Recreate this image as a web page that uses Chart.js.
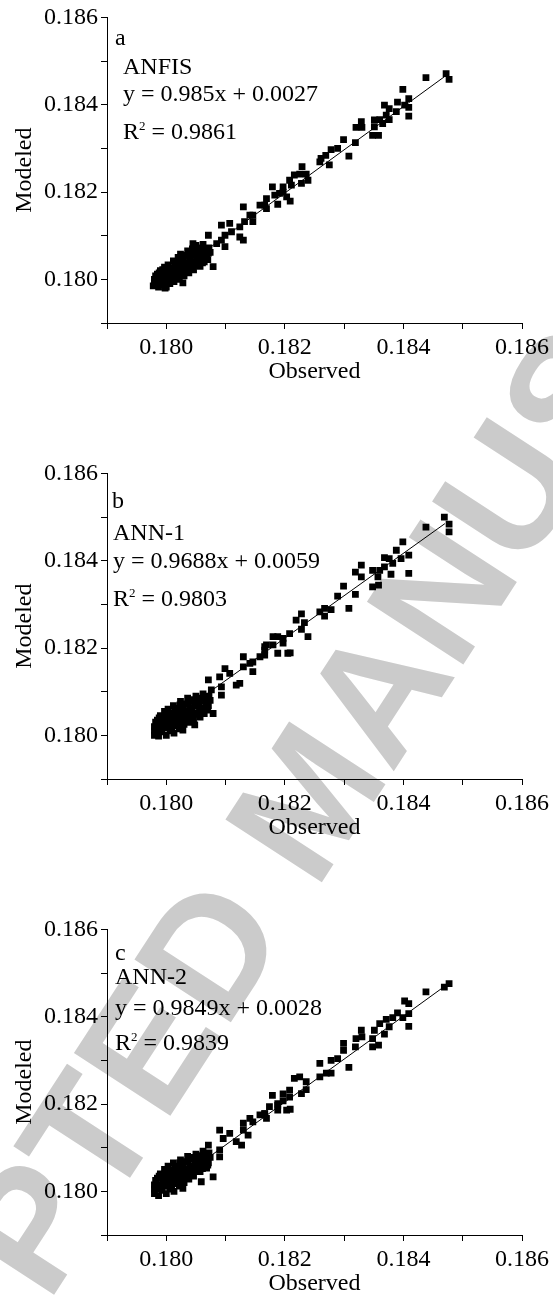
<!DOCTYPE html>
<html>
<head>
<meta charset="utf-8">
<script src="https://cdn.jsdelivr.net/npm/chart.js@4/dist/chart.umd.min.js"></script>
<style>
body { margin: 0; background: #fff; width: 553px; height: 1299px; overflow: hidden; position: relative; font-family: "Liberation Serif", serif; }
.wm { position: absolute; left: 308px; top: 798px; transform: translate(-50%, -50%) rotate(-57deg); font: bold 167px "Liberation Sans", sans-serif; color: #cbcbcb; white-space: nowrap; line-height: 1; }
.box { position: absolute; left: 0; width: 553px; height: 386px; }
.note { position: absolute; font-size: 24px; line-height: 24px; white-space: nowrap; color: #000; }
.note span { font-size: 13px; position: relative; top: -9px; }
</style>
</head>
<body>
<div class="wm">ACCEPTED MANUSCRIPT</div>

<div class="box" style="top:0"><canvas id="chartA" width="553" height="386"></canvas></div>
<div class="box" style="top:456px"><canvas id="chartB" width="553" height="386"></canvas></div>
<div class="box" style="top:912px"><canvas id="chartC" width="553" height="386"></canvas></div>

<div class="note" style="left:115px;top:25px">a</div>
<div class="note" style="left:123px;top:54px">ANFIS</div>
<div class="note" style="left:123px;top:81px">y = 0.985x + 0.0027</div>
<div class="note" style="left:123px;top:119px">R<span>2</span> = 0.9861</div>

<div class="note" style="left:112px;top:488px">b</div>
<div class="note" style="left:113px;top:520px">ANN-1</div>
<div class="note" style="left:113px;top:548px">y = 0.9688x + 0.0059</div>
<div class="note" style="left:113px;top:586px">R<span>2</span> = 0.9803</div>

<div class="note" style="left:115px;top:940px">c</div>
<div class="note" style="left:115px;top:964px">ANN-2</div>
<div class="note" style="left:115px;top:995px">y = 0.9849x + 0.0028</div>
<div class="note" style="left:115px;top:1030px">R<span>2</span> = 0.9839</div>

<script>
// axis ticks (same for both axes, all three panels)
const tickVals = [0.179, 0.180, 0.181, 0.182, 0.183, 0.184, 0.185, 0.186];
const tickLabels = ['', '0.180', '', '0.182', '', '0.184', '', '0.186'];

// ---- a: ANFIS ----
const obsA = [
  0.17978,0.17980,0.17983,0.17985,0.17987,0.17990,0.17990,0.17993,0.17995,0.17997,
  0.18000,0.18000,0.18002,0.18003,0.18006,0.18008,0.18010,0.18012,0.18013,0.18015,
  0.18018,0.18020,0.18022,0.18024,0.18025,0.18028,0.18030,0.18032,0.18034,0.18036,
  0.18038,0.18040,0.18042,0.18044,0.18046,0.18048,0.18050,0.18052,0.18055,0.18057,
  0.18060,0.18062,0.18064,0.18066,0.18068,0.18070,0.18072,0.17998,0.18028,
  0.17980,0.17982,0.17986,0.17988,0.17992,0.17994,0.17998,0.17999,0.18004,0.18005,
  0.18009,0.18011,0.18014,0.18016,0.18019,0.18021,0.18023,0.18026,0.18029,0.18031,
  0.18033,0.18037,0.18039,0.18041,0.18043,0.18047,0.18049,0.18051,0.18054,0.18056,
  0.18059,0.18061,0.18063,0.18067,0.18069,0.18071,0.18074,
  0.18472,0.18477,0.18438,0.18399,0.18409,0.18409,0.18409,0.18390,0.18402,0.18388,
  0.18376,0.18368,0.18371,0.18376,0.18360,0.18351,0.18365,0.18351,0.18348,0.18358,
  0.18329,0.18320,0.18330,0.18299,0.18319,0.18308,0.18289,0.18278,0.18261,0.18269,
  0.18259,0.18275,0.18229,0.18225,0.18236,0.18239,0.18228,0.18216,0.18208,0.18211,
  0.18197,0.18179,0.18191,0.18197,0.18209,0.18188,0.18169,0.18166,0.18158,0.18146,
  0.18183,
  0.18203,0.18169,0.18130,0.18141,0.18146,0.18132,0.18124,0.18107,0.18093,0.18110,
  0.18099,0.18124,0.18130,0.18071,0.18093,0.18085,0.18099,0.18079,0.18045
];
const modA = [
  0.17985,0.18000,0.17992,0.18012,0.17982,0.18000,0.18020,0.17988,0.18008,0.18028,
  0.17982,0.18000,0.18018,0.18033,0.17990,0.18008,0.18025,0.18042,0.17995,0.18015,
  0.18032,0.18050,0.18000,0.18058,0.18020,0.18040,0.18008,0.18055,0.18028,0.18065,
  0.18015,0.18045,0.18030,0.18070,0.18022,0.18055,0.18078,0.18040,0.18065,0.18030,
  0.18050,0.18080,0.18040,0.18065,0.18055,0.18045,0.18072,0.17980,0.17992,
  0.17992,0.18008,0.17998,0.18015,0.18005,0.18022,0.17995,0.18015,0.18008,0.18025,
  0.18000,0.18018,0.18035,0.18005,0.18022,0.18040,0.18012,0.18030,0.18048,0.18020,
  0.18038,0.18055,0.18025,0.18058,0.18040,0.18062,0.18032,0.18052,0.18072,0.18045,
  0.18060,0.18038,0.18070,0.18050,0.18068,0.18060,0.18062,
  0.18471,0.18458,0.18462,0.18435,0.18414,0.18394,0.18374,0.18406,0.18399,0.18384,
  0.18391,0.18399,0.18376,0.18366,0.18366,0.18365,0.18357,0.18349,0.18330,0.18330,
  0.18361,0.18348,0.18348,0.18320,0.18313,0.18282,0.18300,0.18297,0.18277,0.18284,
  0.18269,0.18262,0.18258,0.18241,0.18241,0.18227,0.18220,0.18239,0.18227,0.18216,
  0.18212,0.18212,0.18197,0.18200,0.18179,0.18172,0.18185,0.18170,0.18170,0.18147,
  0.18193,
  0.18189,0.18162,0.18166,0.18147,0.18132,0.18132,0.18120,0.18128,0.18124,0.18109,
  0.18101,0.18097,0.18090,0.18101,0.18090,0.18082,0.18075,0.18029,0.18082
];
const fitObsA = [0.1798, 0.1847];
const fitModA = [0.17980, 0.18465];

// ---- b: ANN-1 ----
const obsB = [
  0.17980,0.17980,0.17983,0.17985,0.17987,0.17990,0.17990,0.17993,0.17995,0.17997,
  0.18000,0.18000,0.18002,0.18003,0.18006,0.18008,0.18010,0.18012,0.18013,0.18015,
  0.18018,0.18020,0.18022,0.18024,0.18025,0.18028,0.18030,0.18032,0.18034,0.18036,
  0.18038,0.18040,0.18042,0.18044,0.18046,0.18048,0.18050,0.18052,0.18055,0.18057,
  0.18060,0.18062,0.18064,0.18066,0.18068,0.18070,0.18072,
  0.17980,0.17982,0.17986,0.17988,0.17992,0.17994,0.17998,0.17999,0.18004,0.18005,
  0.18009,0.18011,0.18014,0.18016,0.18019,0.18021,0.18023,0.18026,0.18029,0.18031,
  0.18033,0.18037,0.18039,0.18041,0.18043,0.18047,0.18049,0.18051,0.18054,0.18056,
  0.18059,0.18061,0.18063,0.18067,0.18069,0.18071,0.18074,
  0.18469,0.18477,0.18477,0.18438,0.18399,0.18409,0.18409,0.18388,0.18396,0.18376,
  0.18368,0.18382,0.18368,0.18379,0.18360,0.18348,0.18357,0.18348,0.18358,0.18329,
  0.18319,0.18329,0.18299,0.18319,0.18289,0.18308,0.18278,0.18267,0.18259,0.18267,
  0.18228,0.18219,0.18233,0.18228,0.18239,0.18208,0.18197,0.18180,0.18188,0.18197,
  0.18169,0.18166,0.18188,0.18209,0.18158,0.18146,
  0.18180,0.18205,0.18166,0.18166,0.18130,0.18141,0.18130,0.18146,0.18099,0.18107,
  0.18090,0.18124,0.18118,0.18071,0.18093,0.18093,0.18076,0.18079,0.18048,0.18028
];
const modB = [
  0.18000,0.18020,0.18010,0.18035,0.17998,0.18022,0.18045,0.18008,0.18032,0.18055,
  0.18000,0.18018,0.18040,0.18060,0.18010,0.18030,0.18050,0.18068,0.18005,0.18022,
  0.18042,0.18062,0.18015,0.18078,0.18035,0.18055,0.18025,0.18072,0.18045,0.18085,
  0.18030,0.18062,0.18048,0.18080,0.18038,0.18068,0.18090,0.18052,0.18075,0.18042,
  0.18062,0.18095,0.18050,0.18080,0.18068,0.18058,0.18090,
  0.18010,0.18030,0.18018,0.18040,0.18012,0.18030,0.18042,0.18022,0.18030,0.18050,
  0.18020,0.18040,0.18058,0.18032,0.18050,0.18025,0.18070,0.18045,0.18062,0.18035,
  0.18055,0.18072,0.18040,0.18078,0.18058,0.18082,0.18048,0.18068,0.18085,0.18060,
  0.18078,0.18052,0.18088,0.18072,0.18085,0.18068,0.18080,
  0.18500,0.18484,0.18466,0.18477,0.18443,0.18413,0.18371,0.18424,0.18405,0.18405,
  0.18407,0.18394,0.18386,0.18369,0.18378,0.18378,0.18363,0.18340,0.18344,0.18390,
  0.18374,0.18363,0.18342,0.18323,0.18319,0.18291,0.18288,0.18291,0.18283,0.18273,
  0.18278,0.18264,0.18258,0.18243,0.18226,0.18233,0.18222,0.18226,0.18226,0.18211,
  0.18207,0.18195,0.18188,0.18189,0.18180,0.18168,
  0.18207,0.18188,0.18184,0.18203,0.18180,0.18165,0.18157,0.18146,0.18153,0.18142,
  0.18134,0.18119,0.18115,0.18127,0.18111,0.18092,0.18104,0.18050,0.18024,0.18012
];
const fitObsB = [0.1798, 0.1847];
const fitModB = [0.18009, 0.18485];

// ---- c: ANN-2 ----
const obsC = [
  0.17980,0.17980,0.17983,0.17985,0.17987,0.17990,0.17990,0.17993,0.17995,0.17997,
  0.18000,0.18000,0.18002,0.18003,0.18006,0.18008,0.18010,0.18012,0.18013,0.18015,
  0.18018,0.18020,0.18022,0.18024,0.18025,0.18028,0.18030,0.18032,0.18034,0.18036,
  0.18038,0.18040,0.18042,0.18044,0.18046,0.18048,0.18050,0.18052,0.18055,0.18057,
  0.18060,0.18062,0.18064,0.18066,0.18068,0.18070,0.18072,
  0.17980,0.17982,0.17986,0.17988,0.17992,0.17994,0.17998,0.17999,0.18004,0.18005,
  0.18009,0.18011,0.18014,0.18016,0.18019,0.18021,0.18023,0.18026,0.18029,0.18031,
  0.18033,0.18037,0.18039,0.18041,0.18043,0.18047,0.18049,0.18051,0.18054,0.18056,
  0.18059,0.18061,0.18063,0.18067,0.18069,0.18071,0.18074,
  0.18477,0.18469,0.18438,0.18402,0.18409,0.18409,0.18409,0.18390,0.18399,0.18382,
  0.18371,0.18360,0.18376,0.18368,0.18351,0.18348,0.18348,0.18358,0.18329,0.18320,
  0.18330,0.18299,0.18299,0.18319,0.18308,0.18289,0.18278,0.18259,0.18259,0.18270,
  0.18278,0.18225,0.18216,0.18236,0.18236,0.18228,0.18208,0.18208,0.18197,0.18179,
  0.18197,0.18188,0.18209,0.18188,0.18174,0.18166,0.18158,0.18146,
  0.18188,0.18203,0.18166,0.18169,0.18141,0.18130,0.18130,0.18138,0.18090,0.18107,
  0.18096,0.18118,0.18127,0.18071,0.18090,0.18090,0.18079,0.18068,0.18059,0.18028
];
const modC = [
  0.17995,0.18015,0.18005,0.18030,0.17990,0.18015,0.18040,0.18002,0.18025,0.18050,
  0.17995,0.18012,0.18035,0.18058,0.18005,0.18025,0.18045,0.18065,0.18000,0.18018,
  0.18038,0.18058,0.18012,0.18072,0.18030,0.18050,0.18020,0.18068,0.18040,0.18080,
  0.18028,0.18058,0.18045,0.18075,0.18035,0.18065,0.18085,0.18050,0.18072,0.18045,
  0.18062,0.18092,0.18055,0.18080,0.18068,0.18060,0.18088,
  0.18005,0.18025,0.18012,0.18035,0.18008,0.18028,0.18040,0.18018,0.18025,0.18048,
  0.18015,0.18035,0.18055,0.18028,0.18048,0.18022,0.18065,0.18040,0.18058,0.18030,
  0.18050,0.18068,0.18038,0.18075,0.18055,0.18078,0.18045,0.18065,0.18082,0.18058,
  0.18075,0.18052,0.18085,0.18070,0.18082,0.18065,0.18078,
  0.18476,0.18468,0.18457,0.18436,0.18430,0.18407,0.18378,0.18409,0.18398,0.18398,
  0.18394,0.18384,0.18377,0.18360,0.18369,0.18350,0.18331,0.18335,0.18369,0.18350,
  0.18354,0.18339,0.18323,0.18331,0.18284,0.18304,0.18300,0.18293,0.18262,0.18271,
  0.18271,0.18262,0.18259,0.18251,0.18233,0.18224,0.18232,0.18216,0.18223,0.18220,
  0.18207,0.18201,0.18188,0.18186,0.18194,0.18178,0.18175,0.18159,
  0.18197,0.18186,0.18178,0.18167,0.18167,0.18156,0.18140,0.18129,0.18140,0.18133,
  0.18121,0.18114,0.18106,0.18106,0.18095,0.18079,0.18033,0.18053,0.18022,0.18007
];
const fitObsC = [0.1798, 0.1848];
const fitModC = [0.17988, 0.18480];

const serif = 'Liberation Serif';

function axis(title, horizontal) {
  return {
    type: 'linear',
    min: 0.179,
    max: 0.186,
    afterBuildTicks: s => { s.ticks = tickVals.map(v => ({ value: v })); },
    afterFit: s => { if (horizontal) s.height = 63; else s.width = 107; },
    grid: { drawOnChartArea: false, drawTicks: true, tickLength: 6, color: '#000', tickWidth: 1 },
    border: { display: true, color: '#000', width: 1 },
    ticks: {
      autoSkip: false,
      maxRotation: 0,
      padding: horizontal ? 4 : 3,
      color: '#000',
      font: { family: serif, size: 24 },
      callback: (v, i) => tickLabels[i]
    },
    title: {
      display: true,
      text: title,
      color: '#000',
      font: { family: serif, size: 24 },
      padding: horizontal ? { top: 0, bottom: 0 } : { top: 10, bottom: 0 }
    }
  };
}

function makeChart(id, obs, mod, fitObs, fitMod) {
  const pts = obs.map((x, i) => ({ x: x, y: mod[i] }));
  const fit = fitObs.map((x, i) => ({ x: x, y: fitMod[i] }));
  return new Chart(document.getElementById(id), {
    type: 'scatter',
    data: {
      datasets: [
        {
          type: 'line',
          data: fit,
          borderColor: '#000',
          borderWidth: 1,
          pointRadius: 0,
          fill: false,
          order: 0
        },
        {
          data: pts,
          pointStyle: 'rect',
          pointRadius: 4.8,
          pointHoverRadius: 4.8,
          backgroundColor: '#000',
          borderWidth: 0,
          order: 1
        }
      ]
    },
    options: {
      responsive: false,
      animation: false,
      layout: { padding: { top: 17, right: 30, left: 0, bottom: 0 } },
      plugins: { legend: { display: false }, tooltip: { enabled: false } },
      scales: {
        x: axis('Observed', true),
        y: axis('Modeled', false)
      }
    }
  });
}

makeChart('chartA', obsA, modA, fitObsA, fitModA);
makeChart('chartB', obsB, modB, fitObsB, fitModB);
makeChart('chartC', obsC, modC, fitObsC, fitModC);
</script>
</body>
</html>
